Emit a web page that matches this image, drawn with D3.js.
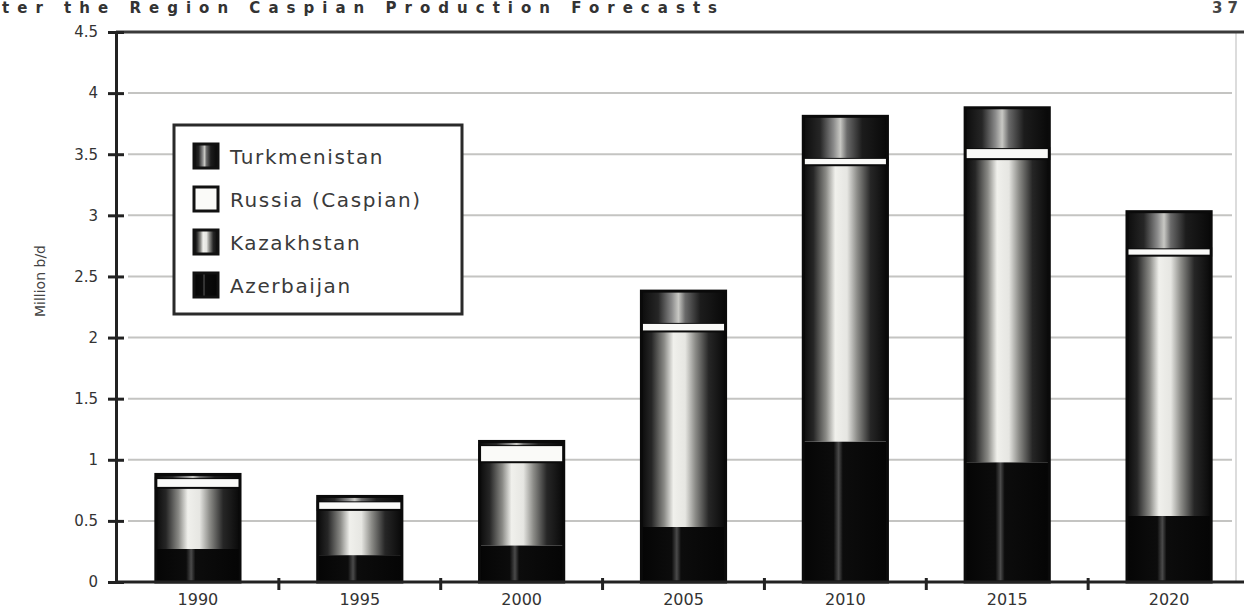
<!DOCTYPE html>
<html>
<head>
<meta charset="utf-8">
<script src="https://cdn.jsdelivr.net/npm/d3@7"></script>
<style>
  html, body { margin: 0; padding: 0; background: #fff; }
  svg { display: block; font-family: "DejaVu Sans", sans-serif; }
</style>
</head>
<body>
<svg id="chart"></svg>
<script>
// values (million b/d)
const years = ["1990", "1995", "2000", "2005", "2010", "2015", "2020"];
const azerbaijan = [0.27, 0.22, 0.30, 0.45, 1.15, 0.98, 0.54];
const kazakhstan = [0.50, 0.37, 0.68, 1.60, 2.26, 2.48, 2.13];
const russia = [0.08, 0.07, 0.14, 0.07, 0.06, 0.09, 0.06];
const turkmenistan = [0.03, 0.04, 0.03, 0.26, 0.34, 0.33, 0.30];
const seriesNames = ["Azerbaijan", "Kazakhstan", "Russia (Caspian)", "Turkmenistan"];
const legendNames = ["Turkmenistan", "Russia (Caspian)", "Kazakhstan", "Azerbaijan"];
const yTicks = [0, 0.5, 1, 1.5, 2, 2.5, 3, 3.5, 4, 4.5];

const width = 1244, height = 609;
const svg = d3.select("#chart").attr("width", width).attr("height", height);

const rows = years.map((y, i) => ({
  Year: y,
  "Azerbaijan": azerbaijan[i],
  "Kazakhstan": kazakhstan[i],
  "Russia (Caspian)": russia[i],
  "Turkmenistan": turkmenistan[i]
}));

const series = d3.stack().keys(seriesNames)(rows)
  .map(d => (d.forEach(v => v.key = d.key), d));

const plot = { left: 116, right: 1236, top: 32, bottom: 582 };

const xScale = d3.scaleBand()
  .domain(years)
  .range([117, 1250])
  .paddingInner(0.48)
  .paddingOuter(0.24);

const yScale = d3.scaleLinear()
  .domain([0, 4.5])
  .range([plot.bottom, plot.top]);

// gradients: scanned cylinder-like shading
const defs = svg.append("defs");
function grad(id, stops) {
  const g = defs.append("linearGradient").attr("id", id)
    .attr("x1", 0).attr("x2", 1).attr("y1", 0).attr("y2", 0);
  stops.forEach(s => g.append("stop").attr("offset", s[0]).attr("stop-color", s[1]));
}
grad("g-kaz", [[0, "#0a0a0a"], [0.12, "#262626"], [0.27, "#8a8a86"], [0.38, "#f0f0ec"], [0.52, "#e6e6e2"], [0.64, "#8c8c88"], [0.8, "#262626"], [1, "#080808"]]);
grad("g-turk", [[0, "#0c0c0c"], [0.2, "#262626"], [0.36, "#8a8a8a"], [0.44, "#c8c8c4"], [0.52, "#6a6a6a"], [0.7, "#1c1c1c"], [1, "#080808"]]);
grad("g-aze", [[0, "#050505"], [0.36, "#0c0c0c"], [0.42, "#4a4a4a"], [0.47, "#0c0c0c"], [1, "#050505"]]);
grad("g-rus", [[0, "#fafaf8"], [1, "#fafaf8"]]);

const fills = {
  "Azerbaijan": "url(#g-aze)",
  "Kazakhstan": "url(#g-kaz)",
  "Russia (Caspian)": "url(#g-rus)",
  "Turkmenistan": "url(#g-turk)"
};

// gridlines
svg.append("g")
  .selectAll("line")
  .data(yTicks.filter(t => t > 0 && t < 4.5))
  .join("line")
    .attr("x1", plot.left + 12)
    .attr("x2", plot.right - 4)
    .attr("y1", d => yScale(d))
    .attr("y2", d => yScale(d))
    .attr("stroke", "#c4c4c2")
    .attr("stroke-width", 2);

// frame right edge and top
svg.append("line")
  .attr("x1", plot.right).attr("x2", plot.right)
  .attr("y1", plot.top).attr("y2", plot.bottom)
  .attr("stroke", "#d0d0d0").attr("stroke-width", 1.5);
svg.append("line")
  .attr("x1", plot.left).attr("x2", width)
  .attr("y1", plot.top).attr("y2", plot.top)
  .attr("stroke", "#3a3a3a").attr("stroke-width", 3);

// bars
svg.append("g")
  .selectAll("g")
  .data(series)
  .join("g")
    .attr("fill", d => fills[d.key])
  .selectAll("rect")
  .data(d => d)
  .join("rect")
    .attr("x", d => xScale(d.data.Year))
    .attr("y", d => yScale(d[1]))
    .attr("height", d => yScale(d[0]) - yScale(d[1]))
    .attr("width", xScale.bandwidth())
    .attr("stroke", d => d.key === "Russia (Caspian)" ? "#0a0a0a" : "none")
    .attr("stroke-width", 2);

// bar outlines
svg.append("g")
  .selectAll("rect")
  .data(series[series.length - 1])
  .join("rect")
    .attr("x", d => xScale(d.data.Year))
    .attr("y", d => yScale(d[1]))
    .attr("width", xScale.bandwidth())
    .attr("height", d => yScale(0) - yScale(d[1]))
    .attr("fill", "none")
    .attr("stroke", "#0a0a0a")
    .attr("stroke-width", 3);

// y axis
const yAxisG = svg.append("g")
  .attr("transform", `translate(${plot.left},0)`)
  .call(d3.axisLeft(yScale).tickValues(yTicks).tickFormat(d3.format("")).tickSize(8).tickPadding(10));
yAxisG.select(".domain").attr("stroke", "#222").attr("stroke-width", 3);
yAxisG.selectAll(".tick line").attr("x1", -8).attr("x2", 8).attr("stroke", "#222").attr("stroke-width", 3);
yAxisG.selectAll(".tick text")
  .attr("font-size", 15).attr("fill", "#333").attr("font-family", "DejaVu Sans");

// x axis
const xAxisG = svg.append("g")
  .attr("transform", `translate(0,${plot.bottom})`)
  .call(d3.axisBottom(xScale).tickSize(0).tickPadding(12));
xAxisG.select(".domain").attr("d", `M${plot.left},0H${width}`).attr("stroke", "#222").attr("stroke-width", 3);
xAxisG.selectAll(".tick text")
  .attr("font-size", 16).attr("fill", "#333").attr("font-family", "DejaVu Sans");
xAxisG.append("g")
  .selectAll("line")
  .data(years.slice(0, -1))
  .join("line")
    .attr("x1", d => xScale(d) + xScale.bandwidth() + xScale.step() * xScale.paddingInner() / 2)
    .attr("x2", d => xScale(d) + xScale.bandwidth() + xScale.step() * xScale.paddingInner() / 2)
    .attr("y1", -4).attr("y2", 8)
    .attr("stroke", "#222").attr("stroke-width", 3);

// axis title
svg.append("text")
  .attr("transform", "translate(45,281) rotate(-90)")
  .attr("text-anchor", "middle")
  .attr("font-size", 14)
  .attr("fill", "#444")
  .text("Million b/d");

// legend
const legend = svg.append("g").attr("transform", "translate(174,125)");
legend.append("rect")
  .attr("width", 288).attr("height", 189)
  .attr("fill", "#fff").attr("stroke", "#2a2a2a").attr("stroke-width", 3);
const legendFills = {
  "Turkmenistan": "url(#g-turk)",
  "Russia (Caspian)": "#fafaf8",
  "Kazakhstan": "url(#g-kaz)",
  "Azerbaijan": "url(#g-aze)"
};
const items = legend.selectAll("g.item")
  .data(legendNames)
  .join("g")
    .attr("class", "item")
    .attr("transform", (d, i) => `translate(20,${19 + i * 43})`);
items.append("rect")
  .attr("width", 24).attr("height", 24)
  .attr("fill", d => legendFills[d])
  .attr("stroke", "#111").attr("stroke-width", 3);
items.append("text")
  .attr("x", 36).attr("y", 20)
  .attr("font-size", 20)
  .attr("letter-spacing", 1.6)
  .attr("fill", "#3a3a3a")
  .text(d => d);

// page header from the top of the scan
svg.append("text")
  .attr("x", 2).attr("y", 13)
  .attr("font-size", 15).attr("font-weight", "bold")
  .attr("fill", "#333")
  .attr("textLength", 715).attr("lengthAdjust", "spacing")
  .text("ter the Region Caspian Production Forecasts");
svg.append("text")
  .attr("x", 1238).attr("y", 13)
  .attr("text-anchor", "end")
  .attr("font-size", 15).attr("font-weight", "bold")
  .attr("fill", "#444")
  .text("3 7");
</script>
</body>
</html>
